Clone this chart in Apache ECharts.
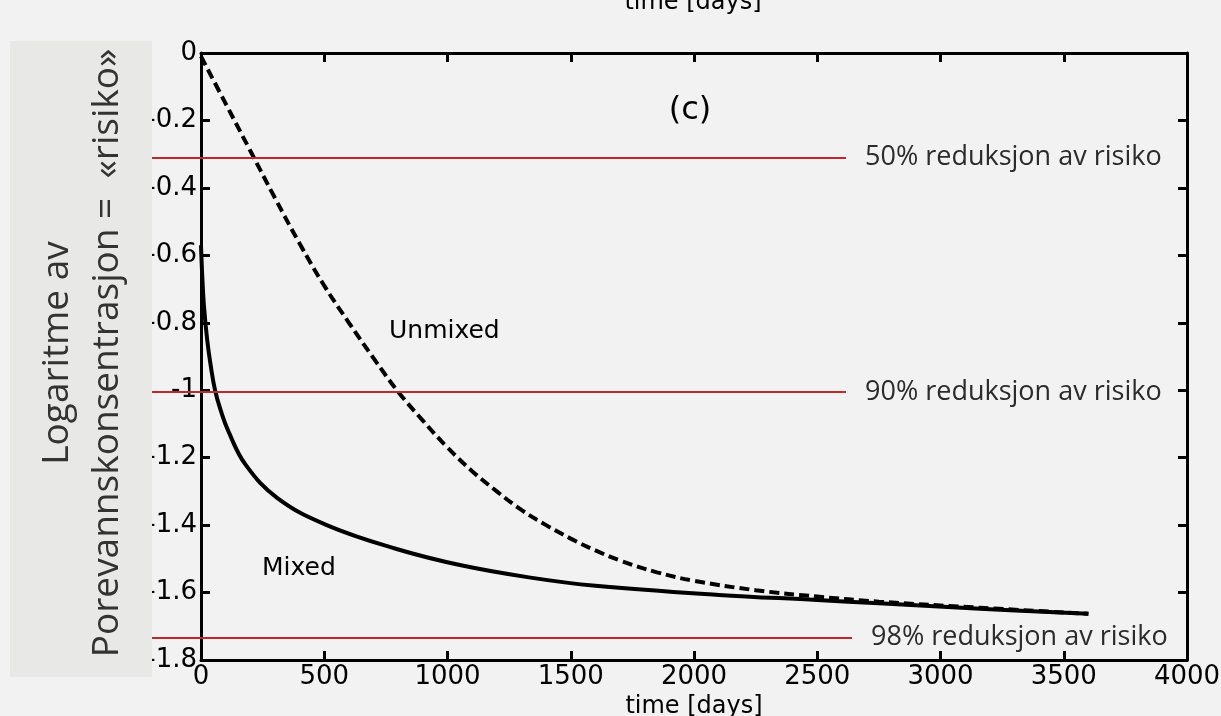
<!DOCTYPE html>
<html>
<head>
<meta charset="utf-8">
<title>Mixed / Unmixed</title>
<script src="https://cdn.jsdelivr.net/npm/echarts@6/dist/echarts.min.js"></script>
<style>
    html, body { margin: 0; padding: 0; background: #f2f2f2; }
    #chart { width: 1221px; height: 716px; }
</style>
</head>
<body>
<div id="chart"></div>
<script>
'use strict';

// (c)
var unmixedDays = [0, 100, 200, 300, 400, 500, 600, 700, 800, 900, 1000, 1100, 1200, 1300, 1400, 1500, 1600, 1700, 1850, 2000, 2250, 2500, 2750, 3160, 3600];
var unmixedLog  = [-0.01, -0.15, -0.29, -0.43, -0.565, -0.69, -0.8, -0.905, -1.005, -1.09, -1.17, -1.24, -1.3, -1.355, -1.4, -1.44, -1.475, -1.505, -1.54, -1.565, -1.593, -1.612, -1.627, -1.645, -1.663];

var mixedDays = [0, 5, 12, 25, 40, 57, 80, 110, 180, 310, 510, 790, 1060, 1330, 1600, 2100, 2500, 2750, 3160, 3600];
var mixedLog  = [-0.57, -0.66, -0.75, -0.85, -0.93, -1.0, -1.06, -1.12, -1.22, -1.32, -1.4, -1.47, -1.52, -1.555, -1.58, -1.607, -1.622, -1.632, -1.648, -1.663];

var riskLevels = [-0.31, -1.005, -1.733];
var riskLabels = ['50% reduksjon av risiko', '90% reduksjon av risiko', '98% reduksjon av risiko'];

var yTitle = 'Logaritme av\nPorevannskonsentrasjon =  \u00abrisiko\u00bb';
var xTitle = 'time [days]';

function pairs(xs, ys) {
    return xs.map(function(x, i) { return [x, ys[i]]; });
}

function plain(v) {
    return String(Math.round(v * 1000) / 1000);
}

var axisFont = 'DejaVu Sans';
var lineEndX = [846, 846, 852];

var boxLine = { lineStyle: { color: '#000', width: 3 }, onZero: false };
var boxTick = { inside: true, length: 9, lineStyle: { color: '#000', width: 3 } };

var chart = echarts.init(document.getElementById('chart'));

chart.setOption({
    backgroundColor: '#f2f2f2',
    animation: false,
    grid: { left: 201, right: 34, top: 53, bottom: 56, outerBoundsMode: 'none' },
    xAxis: [{
        type: 'value', position: 'bottom', min: 0, max: 4000, interval: 500,
        axisLine: boxLine, axisTick: boxTick, splitLine: { show: false },
        axisLabel: { color: '#000', fontFamily: axisFont, fontSize: 26, margin: 4, formatter: plain },
        name: xTitle, nameLocation: 'middle', nameGap: 31,
        nameTextStyle: { color: '#000', fontFamily: axisFont, fontSize: 24 }
    }, {
        type: 'value', position: 'top', min: 0, max: 4000, interval: 500,
        axisLine: boxLine, axisTick: boxTick, splitLine: { show: false },
        axisLabel: { show: false }
    }],
    yAxis: [{
        type: 'value', position: 'left', min: -1.8, max: 0, interval: 0.2,
        axisLine: boxLine, axisTick: boxTick, splitLine: { show: false },
        axisLabel: { color: '#000', fontFamily: axisFont, fontSize: 26, margin: 4, formatter: plain }
    }, {
        type: 'value', position: 'right', min: -1.8, max: 0, interval: 0.2,
        axisLine: boxLine, axisTick: boxTick, splitLine: { show: false },
        axisLabel: { show: false }
    }],
    series: [{
        name: 'Unmixed',
        type: 'line',
        clip: false,
        data: pairs(unmixedDays, unmixedLog),
        showSymbol: false,
        smooth: 0.4,
        lineStyle: { color: '#000', width: 4, type: [10, 5] },
        markLine: {
            silent: true,
            symbol: ['none', 'none'],
            lineStyle: { color: '#c1272d', width: 2, type: 'solid' },
            label: {
                position: 'end', distance: 19, color: '#2b2b2b',
                fontFamily: 'Open Sans', fontSize: 27,
                formatter: function(p) { return riskLabels[p.dataIndex]; }
            },
            data: riskLevels.map(function(v, i) {
                return [{ x: 152, yAxis: v }, { x: lineEndX[i], yAxis: v }];
            })
        }
    }, {
        name: 'Mixed',
        type: 'line',
        data: pairs(mixedDays, mixedLog),
        showSymbol: false,
        smooth: 0.4,
        lineStyle: { color: '#000', width: 4 }
    }],
    graphic: [
        // grey box behind the y title (hides the minus signs, like the slide)
        { type: 'rect', z: 100, shape: { x: 10, y: 41, width: 142, height: 636 }, style: { fill: '#e8e8e6' } },
        { type: 'text', z: 101, x: 82, y: 353, rotation: Math.PI / 2,
          style: { text: yTitle, font: '37px "Open Sans"', fill: '#333', align: 'center', verticalAlign: 'middle', lineHeight: 50 } },
        { type: 'text', z: 101, x: 690, y: 111,
          style: { text: '(c)', font: '32px "DejaVu Sans"', fill: '#000', align: 'center', verticalAlign: 'middle' } },
        { type: 'text', z: 101, x: 389, y: 331,
          style: { text: 'Unmixed', font: '25px "DejaVu Sans"', fill: '#000', align: 'left', verticalAlign: 'middle' } },
        { type: 'text', z: 101, x: 262, y: 568,
          style: { text: 'Mixed', font: '25px "DejaVu Sans"', fill: '#000', align: 'left', verticalAlign: 'middle' } },
        // remains of the panel above, cut by the page edge
        { type: 'text', z: 101, x: 693, y: 15,
          style: { text: xTitle, font: '24px "DejaVu Sans"', fill: '#000', align: 'center', verticalAlign: 'bottom' } }
    ]
});
</script>
</body>
</html>
